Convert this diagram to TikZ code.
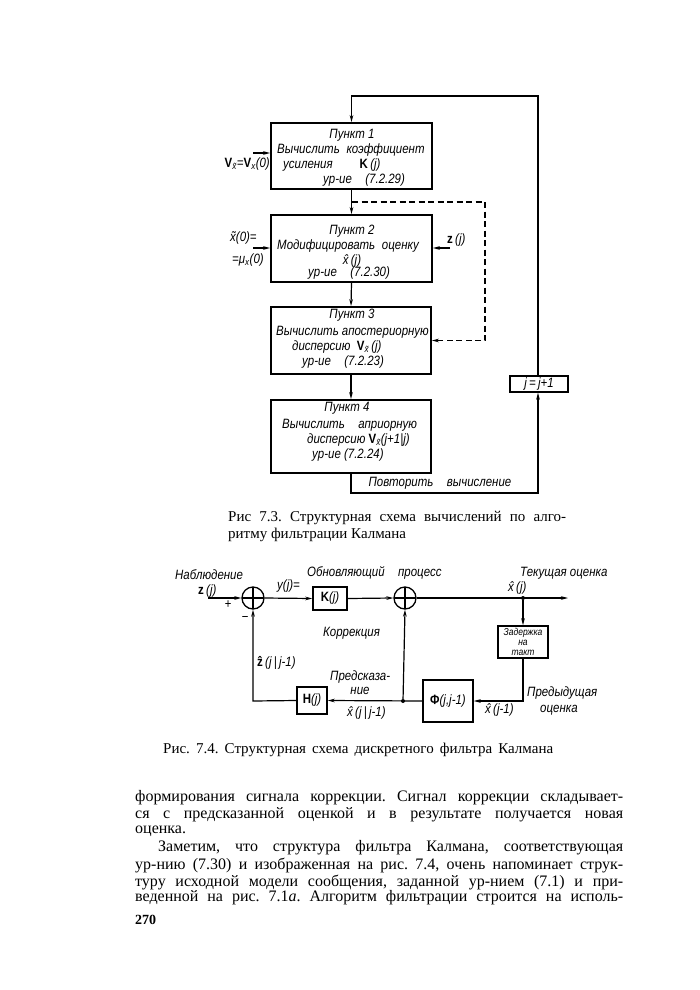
\documentclass[tikz,border=0pt]{standalone}
\usepackage{fontspec}
\setmainfont{Liberation Serif}
\newfontfamily\gost[FakeStretch=0.85]{Liberation Sans}
\usetikzlibrary{arrows.meta}
\frenchspacing
\begin{document}
\begin{tikzpicture}[x=1pt,y=-1pt,
  box/.style={draw,line width=1.8pt,inner sep=0pt},
  ln/.style={line width=1.2pt},
  arr/.style={ln,-{Stealth[length=7pt,width=3.6pt]}},
  dsh/.style={dash pattern=on 6pt off 3.5pt},
  lbl/.style={font=\gost\itshape\fontsize{13.5}{15}\selectfont,inner sep=0pt},
  wl/.style={lbl,anchor=west},
  sl/.style={font=\gost\itshape\fontsize{10}{10}\selectfont,inner sep=0pt,align=center},
  sum/.style={circle,draw,line width=1.3pt,minimum size=22pt,inner sep=0pt,
    path picture={\draw[line width=1.2pt] (path picture bounding box.north)--(path picture bounding box.south)
      (path picture bounding box.west)--(path picture bounding box.east);}},
  body/.style={font=\fontsize{16}{16.7}\selectfont,inner sep=0pt,anchor=west},
  captxt/.style={font=\fontsize{15}{16}\selectfont,inner sep=0pt,anchor=west},
  jdot/.style={circle,fill,inner sep=0pt,minimum size=4pt}
]
\fill[white] (0,0) rectangle (700,990);
\useasboundingbox (0,0) rectangle (700,990);

% ---------- Figure 7.3 ----------
\node[box,minimum width=161pt,minimum height=66pt] (b1) at (351.5,156) {};
\node[box,minimum width=161pt,minimum height=67pt] (b2) at (351.5,248.5) {};
\node[box,minimum width=160pt,minimum height=67pt] (b3) at (351,340.5) {};
\node[box,minimum width=160pt,minimum height=73pt] (b4) at (351,436.5) {};
\node[box,line width=1.4pt,minimum width=58pt,minimum height=16pt,lbl] (jb) at (539,384) {j\,=\,j+1};

\node[lbl] (t11) at (352,135) {Пункт 1};
\node[wl] (t12) at (277,150) {Вычислить\enspace коэффициент};
\node[wl] (t13) at (283,165) {усиления\qquad {\upshape\bfseries K}\,(j)};
\node[wl] (t14) at (323,180) {ур-ие\quad (7.2.29)};

\node[lbl] (t21) at (352,231) {Пункт 2};
\node[wl] (t22) at (277,246) {Модифицировать\enspace оценку};
\node[lbl] (t23) at (352,261) {x^^^^0302\,(j)};
\node[wl] (t24) at (308,273) {ур-ие\quad (7.2.30)};

\node[lbl] (t31) at (352,315) {Пункт 3};
\node[wl] (t32) at (276,332) {Вычислить апостериорную};
\node[wl] (t33) at (292,347) {дисперсию\ \ {\upshape\bfseries V}\textsubscript{x^^^^0303}\,(j)};
\node[wl] (t34) at (302,362) {ур-ие\quad (7.2.23)};

\node[lbl] (t41) at (347,408) {Пункт 4};
\node[wl] (t42) at (282,425) {Вычислить\quad априорную};
\node[wl] (t43) at (307,440) {дисперсию {\upshape\bfseries V}\textsubscript{x^^^^0303}(j+1|j)};
\node[wl] (t44) at (312,455) {ур-ие (7.2.24)};

\coordinate (rx) at (538,96);
\coordinate (rb) at (538,493);
\draw[arr] (jb.north -| rx) -- (rx) -| (b1.north);
\draw[arr] (b1.south) -- (b2.north);
\draw[arr] (b2.south) -- (b3.north);
\draw[arr] (b3.south) -- (b4.north);
\draw[arr] (b4.south) |- (rb) -- (jb.south -| rb);
\node[lbl] (rep) at (440,483) {Повторить\quad вычисление};

\coordinate (d0) at (352,202);
\coordinate (d1) at (485,202);
\draw[arr,dsh] (d0) -- (d1) |- (b3.east);

\coordinate (in1) at (253,153);
\draw[arr] (in1) -- (in1 -| b1.west);
\node[lbl,anchor=east] (v0) at (270,164) {{\upshape\bfseries V}\textsubscript{x^^^^0303}={\upshape\bfseries V}\textsubscript{x}(0)};
\coordinate (in2) at (253,248);
\draw[arr] (in2) -- (in2 -| b2.west);
\node[wl] (x0a) at (230,238) {x^^^^0303(0)=};
\node[wl] (x0b) at (232,260) {=μ\textsubscript{x}(0)};
\coordinate (zin1) at (450,248);
\draw[arr] (zin1) -- (zin1 -| b2.east);
\node[wl] (zj1) at (447,240) {{\upshape\bfseries z}\,(j)};

\node[captxt] (c3a) at (228,518) {\makebox[338pt][s]{Рис 7.3. Структурная схема вычислений по алго-}};
\node[captxt] (c3b) at (228,535) {ритму фильтрации Калмана};

% ---------- Figure 7.4 ----------
\node[sum] (s1) at (253,598) {};
\node[sum] (s2) at (405,598) {};
\node[box,line width=1.5pt,minimum width=34pt,minimum height=23pt,lbl] (K) at (330,598.5) {{\upshape\bfseries K}(j)};
\node[box,line width=1.5pt,minimum width=50pt,minimum height=32pt,sl] (D) at (523,642) {Задержка\\на\\такт};
\node[box,line width=1.5pt,minimum width=50pt,minimum height=42pt,lbl] (F) at (448,701) {{\upshape\bfseries Φ}(j,j-1)};
\node[box,line width=1.5pt,minimum width=30pt,minimum height=27pt,lbl] (H) at (312,700.5) {{\upshape\bfseries H}(j)};

\coordinate (zin) at (208,598);
\coordinate (out) at (568,598);
\node[jdot] (j1) at (523,598) {};
\node[jdot] (j2) at (403,701) {};
\coordinate (c1) at (523,701);
\coordinate (c2) at (253,701);
\draw[arr] (zin) -- (s1.west);
\draw[arr] (s1.east) -- (K.west);
\draw[arr] (K.east) -- (s2.west);
\draw[arr] (s2.east) -- (out);
\draw[arr] (j1) -- (D.north);
\draw[arr] (D.south) -- (c1) -- (F.east);
\draw[arr] (F.west) -- (H.east);
\draw[arr] (j2) -- (s2.south);
\draw[arr] (H.west) -- (c2) -- (s1.south);

\node[wl] (l1) at (175,575) {Наблюдение};
\node[wl] (l2) at (198,591) {{\upshape\bfseries z}\,(j)};
\node[lbl] (l3) at (228,605) {+};
\node[lbl] (l4) at (245,619) {−};
\node[wl] (l5) at (277,586) {у(j)=};
\node[wl] (l6) at (307,573) {Обновляющий\quad процесс};
\node[wl] (l7) at (520,573) {Текущая оценка};
\node[wl] (l8) at (508,588) {x^^^^0302\,(j)};
\node[wl] (l9) at (323,633) {Коррекция};
\node[wl] (l10) at (257,663) {{\upshape\bfseries z^^^^0302}\,(j\,|\,j-1)};
\node[wl] (l11) at (330,677) {Предсказа-};
\node[lbl] (l12) at (360,691) {ние};
\node[wl] (l13) at (347,713) {x^^^^0302\,(j\,|\,j-1)};
\node[wl] (l14) at (485,710) {x^^^^0302\,(j-1)};
\node[wl] (l15) at (527,693) {Предыдущая};
\node[wl] (l16) at (540,710) {оценка};

\node[captxt] (c4) at (163,750) {\makebox[390pt][s]{Рис. 7.4. Структурная схема дискретного фильтра Калмана}};

% ---------- Body text ----------
\node[body] (p1) at (135,798) {\makebox[488pt][s]{формирования сигнала коррекции. Сигнал коррекции складывает-}};
\node[body] (p2) at (135,815) {\makebox[488pt][s]{ся с предсказанной оценкой и в результате получается новая}};
\node[body] (p3) at (135,831) {оценка.};
\node[body] (p4) at (158,848) {\makebox[465pt][s]{Заметим, что структура фильтра Калмана, соответствующая}};
\node[body] (p5) at (135,865) {\makebox[488pt][s]{ур-нию (7.30) и изображенная на рис. 7.4, очень напоминает струк-}};
\node[body] (p6) at (135,882) {\makebox[488pt][s]{туру исходной модели сообщения, заданной ур-нием (7.1) и при-}};
\node[body] (p7) at (135,898) {\makebox[488pt][s]{веденной на рис. 7.1\textit{a}. Алгоритм фильтрации строится на исполь-}};
\node[body,font=\bfseries\fontsize{14}{16}\selectfont] (pg) at (135,920) {270};
\end{tikzpicture}
\end{document}
